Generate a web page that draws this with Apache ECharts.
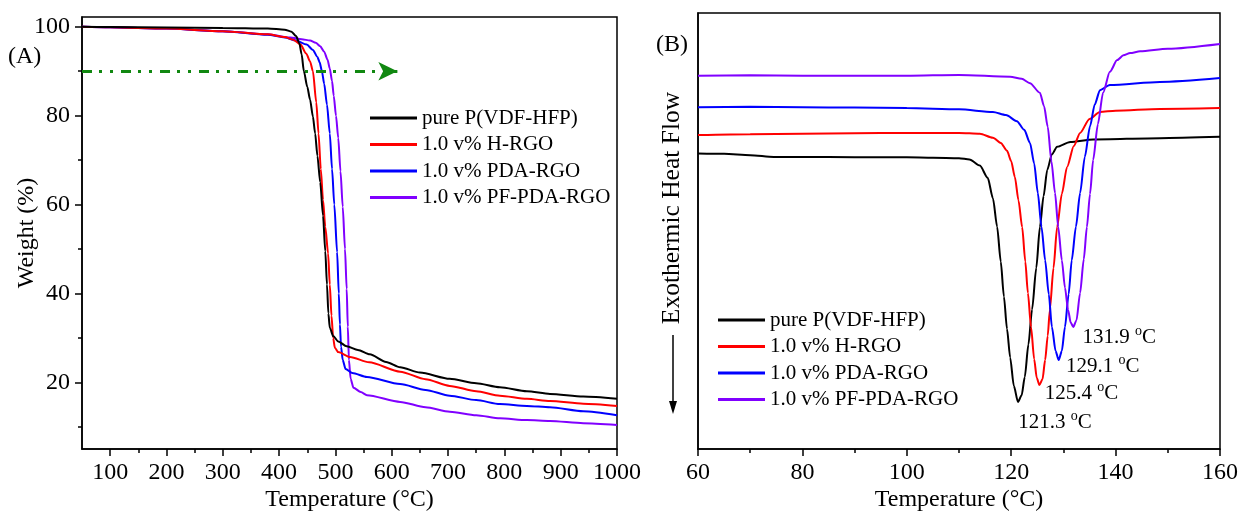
<!DOCTYPE html>
<html>
<head>
<meta charset="utf-8">
<script src="https://cdn.jsdelivr.net/npm/echarts@6/dist/echarts.min.js"></script>
<style>
  html, body { margin: 0; padding: 0; background: #fff; }
  #chart { width: 1242px; height: 511px; }
</style>
</head>
<body>
<div id="chart"></div>
<script>
// Sample names shared by both panels
const samples = ['pure P(VDF-HFP)', '1.0 v% H-RGO', '1.0 v% PDA-RGO', '1.0 v% PF-PDA-RGO'];
const colors = ['#000000', '#ff0000', '#0000ff', '#8000ff'];

// (A) TGA: [temperature °C, weight %]
const tgaPure = [[50,100],[100,99.95],[200,99.85],[300,99.75],[380,99.6],[410,99.35],[422,98.9],[430,97.9],[436,96.3],[440,93.8],[444,90],[450,86.5],[455,83.6],[460,79.8],[464,76],[468,71],[473,65],[478,57.5],[482,49.5],[485,42],[487.5,35.5],[490,32.3],[496,30.4],[505,29.2],[520,28.1],[540,27.3],[561,26.3],[590,24.6],[615,23.4],[650,22.2],[703,20.8],[750,19.8],[792,18.9],[840,18.0],[881,17.4],[940,16.8],[1000,16.3]];
const tgaH = [[50,100],[100,99.9],[200,99.6],[300,99.0],[380,98.3],[410,97.7],[425,97.1],[438,96],[448,94],[455,92.2],[460,90],[466,83],[470,76],[474,68],[478,61],[482,55],[487,49],[490,42],[493,35],[496,30],[499,27.8],[505,26.8],[526,25.7],[560,24.5],[615,22.4],[660,20.7],[703,19.2],[750,18.0],[792,17.0],[840,16.3],[881,15.8],[940,15.2],[1000,14.7]];
const tgaPDA = [[50,100],[100,99.9],[200,99.6],[300,99.0],[380,98.2],[410,97.6],[430,96.9],[449,96.0],[460,94.8],[468,93.2],[472,92],[476,90],[480,87.2],[485,82.5],[490,76],[494,68],[498,60],[503,49.3],[506,40],[508,33],[510,28],[513,25],[518,23],[530,22.1],[556,21.2],[615,19.6],[660,18.3],[703,17.0],[750,16.0],[792,15.1],[840,14.7],[881,14.4],[940,13.5],[1000,12.6]];
const tgaPF = [[50,100],[100,99.9],[200,99.6],[300,99.0],[380,98.3],[420,97.6],[440,97.2],[455,96.9],[465,96.4],[473,95.6],[480,94.4],[486,92.6],[490,90.6],[494,87.8],[497,84.5],[501,80],[505,75],[509,67.5],[513,59.5],[517,50],[520,41],[522,32.5],[524,25],[527,20.8],[532,18.8],[545,17.8],[556,17.1],[615,15.6],[660,14.4],[703,13.4],[750,12.6],[792,11.9],[840,11.5],[881,11.3],[940,10.8],[1000,10.4]];

// (B) DSC cooling: [temperature °C, heat flow (a.u.)]
const dscPure = [[60,67.8],[65,67.7],[70,67.4],[74.5,67.0],[80,67.0],[90,66.9],[100,66.9],[105,66.8],[110,66.7],[112,66.4],[114,65.0],[115.5,62.2],[116.5,57.5],[117.3,51],[118,43],[118.6,35],[119.2,27.5],[119.8,21],[120.5,14.5],[121.3,10.8],[122,12.3],[122.6,16.5],[123.3,24],[124,32],[124.8,41.5],[125.5,50.9],[126.2,58],[126.9,64],[127.8,67.6],[128.8,69.3],[131.3,70.4],[135.7,71.0],[148.5,71.3],[160,71.6]];
const dscH = [[60,72.0],[70,72.2],[80,72.3],[90,72.4],[100,72.5],[110,72.5],[114,72.3],[116.5,71.4],[118,70.2],[119.2,68.4],[120,66],[120.7,62.4],[121.4,57],[122.1,50.9],[122.7,43],[123.2,35.8],[123.8,28],[124.4,20.6],[124.9,16.3],[125.4,14.7],[126,16],[126.5,20.4],[127,26],[127.4,31.9],[128.1,41.5],[128.8,50.9],[129.7,58.5],[130.7,64.7],[132,69.5],[133.2,72.5],[135,75.7],[137,77.3],[140,77.6],[148.5,78.0],[160,78.2]];
const dscPDA = [[60,78.4],[70,78.5],[80,78.4],[90,78.3],[100,78.2],[110,77.9],[116.5,77.3],[119,76.6],[121.1,75.2],[122.5,73.2],[123.6,70.2],[124.4,65.5],[125.1,58.7],[125.8,51],[126.5,43.3],[127.2,35.5],[127.8,28],[128.5,22.5],[129.1,20.4],[129.7,22.5],[130.3,28],[131,35.5],[131.6,43.3],[132.4,51],[133.2,58.7],[134.1,67],[135.1,74],[136,79],[137,82.3],[138.9,83.5],[148.5,84.2],[160,85.1]];
const dscPF = [[60,85.6],[70,85.7],[80,85.6],[90,85.6],[100,85.6],[110,85.8],[119.8,85.4],[122,84.9],[123.6,83.9],[125.5,81.7],[126.3,78.6],[127,73.9],[127.7,66],[128.4,58.7],[129,51],[129.7,43.3],[130.3,37],[130.9,31.9],[131.4,29],[131.9,28.0],[132.5,29.5],[133.2,35.8],[133.9,43.5],[134.5,50.9],[135.1,58.5],[135.7,66.3],[136.6,74.5],[137.6,81.7],[138.9,86.5],[140.3,89.2],[141.5,90.3],[142.8,90.8],[144.7,91.2],[150,91.8],[160,92.9]];

// Axis ticks
const tgaXLabels = [100, 200, 300, 400, 500, 600, 700, 800, 900, 1000];
const tgaXMinor = [150, 250, 350, 450, 550, 650, 750, 850, 950];
const tgaYLabels = [20, 40, 60, 80, 100];
const tgaYMinor = [10, 30, 50, 70, 90];

// 10 % weight-loss guide line
const guideY = 90;
const guideX = [50, 610];

// Peak label offsets (px, relative to the minimum of each curve)
const peakOffsets = [[37, 19], [42, 7], [44, 5], [46, 9]];

const FONT = '"Liberation Serif", "Times New Roman", serif';

const tga = [tgaPure, tgaH, tgaPDA, tgaPF];
const dsc = [dscPure, dscH, dscPDA, dscPF];

function minPoint(arr) {
  let m = arr[0];
  arr.forEach(p => { if (p[1] < m[1]) m = p; });
  return m;
}

const series = [];
tga.forEach((d, i) => {
  const s = {
    name: samples[i], type: 'line', xAxisIndex: 0, yAxisIndex: 0,
    data: d, showSymbol: false, smooth: 0.25, smoothMonotone: 'x',
    lineStyle: { color: colors[i], width: 2 }, itemStyle: { color: colors[i] },
    z: 5 - i
  };
  if (i === 0) {
    s.markLine = {
      silent: true, symbol: ['none', 'arrow'], symbolSize: [14, 19],
      label: { show: false },
      lineStyle: { color: '#118811', width: 3, type: [10, 7, 3, 8, 3, 8] },
      data: [[{ coord: [guideX[0], guideY] }, { coord: [guideX[1], guideY] }]]
    };
  }
  series.push(s);
});
dsc.forEach((d, i) => {
  const m = minPoint(d);
  series.push({
    name: samples[i], type: 'line', xAxisIndex: 2, yAxisIndex: 1,
    data: d, showSymbol: false, smooth: 0.25, smoothMonotone: 'x',
    lineStyle: { color: colors[i], width: 2 }, itemStyle: { color: colors[i] },
    markPoint: {
      silent: true, symbol: 'circle', symbolSize: 0,
      data: [{ coord: m, value: m[0] }],
      label: {
        show: true, position: 'inside', offset: peakOffsets[i],
        formatter: p => '{n|' + p.value.toFixed(1) + ' }{s|o}{n|C}',
        rich: {
          n: { fontFamily: FONT, fontSize: 21, color: '#000', lineHeight: 24, verticalAlign: 'bottom' },
          s: { fontFamily: FONT, fontSize: 14, color: '#000', lineHeight: 24, verticalAlign: 'top' }
        }
      }
    }
  });
});

const axisText = { fontFamily: FONT, fontSize: 24, color: '#000' };
const legendCommon = {
  orient: 'vertical', icon: 'rect', itemWidth: 47, itemHeight: 3, itemGap: 4.5,
  data: samples, selectedMode: false,
  textStyle: { fontFamily: FONT, fontSize: 21, color: '#000', lineHeight: 22 }
};
const plain = v => String(v);

const option = {
  animation: false,
  backgroundColor: '#fff',
  grid: [
    { left: 82, top: 17, width: 535, height: 432, show: true, borderColor: '#000', borderWidth: 1.5, outerBoundsMode: 'none' },
    { left: 698, top: 13, width: 522, height: 436, show: true, borderColor: '#000', borderWidth: 1.5, outerBoundsMode: 'none' }
  ],
  xAxis: [
    {
      gridIndex: 0, type: 'value', min: 50, max: 1000,
      name: 'Temperature (°C)', nameLocation: 'middle', nameGap: 39, nameMoveOverlap: false, nameTextStyle: axisText,
      axisLine: { lineStyle: { color: '#000', width: 1.5 } },
      axisTick: { inside: false, length: 7, customValues: tgaXLabels, lineStyle: { color: '#000', width: 1.5 } },
      axisLabel: { customValues: tgaXLabels, formatter: plain, margin: 12, fontFamily: FONT, fontSize: 24, color: '#000' },
      splitLine: { show: false }
    },
    {
      gridIndex: 0, type: 'value', min: 50, max: 1000, position: 'bottom',
      axisLine: { show: false },
      axisTick: { inside: false, length: 4, customValues: tgaXMinor, lineStyle: { color: '#000', width: 1.5 } },
      axisLabel: { show: false }, splitLine: { show: false }
    },
    {
      gridIndex: 1, type: 'value', min: 60, max: 160, interval: 20,
      name: 'Temperature (°C)', nameLocation: 'middle', nameGap: 39, nameMoveOverlap: false, nameTextStyle: axisText,
      axisLine: { lineStyle: { color: '#000', width: 1.5 } },
      axisTick: { inside: false, length: 7, lineStyle: { color: '#000', width: 1.5 } },
      minorTick: { show: true, splitNumber: 2, length: 4, lineStyle: { color: '#000', width: 1.5 } },
      axisLabel: { formatter: plain, margin: 12, fontFamily: FONT, fontSize: 24, color: '#000' },
      splitLine: { show: false }
    }
  ],
  yAxis: [
    {
      gridIndex: 0, type: 'value', min: 5, max: 102.2,
      name: 'Weight (%)', nameLocation: 'middle', nameGap: 43, nameMoveOverlap: false, nameTextStyle: axisText,
      axisLine: { lineStyle: { color: '#000', width: 1.5 } },
      axisTick: { inside: false, length: 7, customValues: tgaYLabels, lineStyle: { color: '#000', width: 1.5 } },
      axisLabel: { customValues: tgaYLabels, formatter: plain, margin: 12, fontFamily: FONT, fontSize: 24, color: '#000' },
      splitLine: { show: false }
    },
    {
      gridIndex: 1, type: 'value', min: 0, max: 100,
      axisLine: { show: true, lineStyle: { color: '#000', width: 1.5 } },
      axisTick: { show: false }, axisLabel: { show: false }, splitLine: { show: false }
    },
    {
      gridIndex: 0, type: 'value', min: 5, max: 102.2, position: 'left',
      axisLine: { show: false },
      axisTick: { inside: false, length: 4, customValues: tgaYMinor, lineStyle: { color: '#000', width: 1.5 } },
      axisLabel: { show: false }, splitLine: { show: false }
    }
  ],
  legend: [
    Object.assign({ left: 365, top: 102 }, legendCommon),
    Object.assign({ left: 713, top: 304 }, legendCommon)
  ],
  graphic: [
    { type: 'text', left: 8, top: 45, style: { text: '(A)', font: '24px ' + FONT, fill: '#000' } },
    { type: 'text', left: 656, top: 33, style: { text: '(B)', font: '24px ' + FONT, fill: '#000' } },
    {
      type: 'text', x: 672, y: 208, rotation: Math.PI / 2,
      style: { text: 'Exothermic Heat Flow', font: '25.5px ' + FONT, fill: '#000', align: 'center', verticalAlign: 'middle' }
    },
    { type: 'line', shape: { x1: 673, y1: 335, x2: 673, y2: 407 }, style: { stroke: '#000', lineWidth: 1.5 } },
    { type: 'polygon', shape: { points: [[669, 401], [677, 401], [673, 414]] }, style: { fill: '#000' } }
  ],
  series: series
};

const chart = echarts.init(document.getElementById('chart'), null, { renderer: 'canvas' });
chart.setOption(option);
</script>
</body>
</html>
